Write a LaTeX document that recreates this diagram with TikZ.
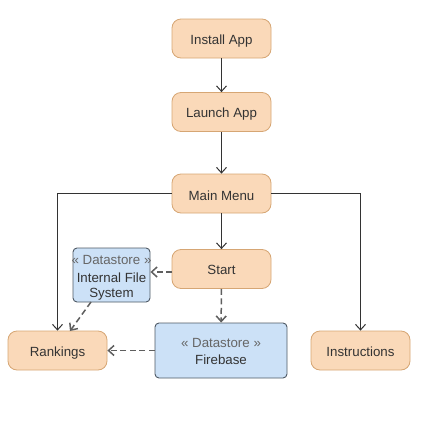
\documentclass[tikz,border=0pt]{standalone}
\usepackage{fontspec}
\setmainfont{Liberation Sans}
\usetikzlibrary{arrows.meta}
\definecolor{ofill}{HTML}{FAD9B9}
\definecolor{ostroke}{HTML}{D6A674}
\definecolor{bfill}{HTML}{CCE1F7}
\definecolor{bstroke}{HTML}{4F5964}
\definecolor{txt}{HTML}{333333}
\definecolor{stereo}{HTML}{666666}
\definecolor{lnsolid}{HTML}{333333}
\definecolor{lndash}{HTML}{5F5F5F}
\begin{document}
\begin{tikzpicture}[x=1pt,y=-1pt,
  every node/.style={font=\fontsize{13.3}{16}\selectfont, text=txt},
  proc/.style={draw=ostroke, fill=ofill, rounded corners=9pt, minimum width=99pt, minimum height=39pt, inner sep=0pt, line width=0.8pt},
  store/.style={draw=bstroke, fill=bfill, rounded corners=4pt, inner sep=0pt, line width=0.9pt, align=center},
  lbl/.style={inner sep=0pt, anchor=base},
  flow/.style={draw=lnsolid, line width=1pt, -{Straight Barb[length=5.5pt,width=10pt]}},
  dep/.style={draw=lndash, line width=1.5pt, dash pattern=on 6pt off 3.5pt, -{Straight Barb[length=5.5pt,width=10pt]}}
]
\useasboundingbox (0,0) rectangle (432,426);
\node[proc] (install) at (221.5,38.5) {};
\node[proc] (launch) at (221.5,112) {};
\node[proc] (menu) at (221.5,193.5) {};
\node[proc] (start) at (221.5,269) {};
\node[proc] (rank) at (57.5,350.5) {};
\node[proc] (instr) at (360.5,350.5) {};
\node[store, minimum width=77pt, minimum height=54pt] (ifs) at (111.5,275) {};
\node[store, minimum width=132pt, minimum height=55pt] (fb) at (221,350.5) {};
\node[lbl] (tinstall) at (221.5,44) {Install App};
\node[lbl] (tlaunch) at (221.5,117.5) {Launch App};
\node[lbl] (tmenu) at (221.5,200.5) {Main Menu};
\node[lbl] (tstart) at (221.5,274.5) {Start};
\node[lbl] (trank) at (57.5,356.5) {Rankings};
\node[lbl] (tinstr) at (360.5,356.5) {Instructions};
\node[lbl] (ifsst) at (111.5,264) {\textcolor{stereo}{« Datastore »}};
\node[lbl] (ifsn1) at (111.5,282.5) {Internal File};
\node[lbl] (ifsn2) at (111.5,297) {System};
\node[lbl] (fbst) at (221,347) {\textcolor{stereo}{« Datastore »}};
\node[lbl] (fbname) at (221,364.5) {Firebase};
\draw[flow] (install) -- (launch);
\draw[flow] (launch) -- (menu);
\draw[flow] (menu) -- (start);
\draw[flow] (menu.west) -| (rank.north);
\draw[flow] (menu.east) -| (instr.north);
\coordinate (sleft) at (172,272);
\draw[dep] (sleft) -- (ifs.east |- sleft);
\draw[dep] (start) -- (fb);
\draw[dep] (fb.west) -- (rank.east);
\coordinate (ifsout) at (91,302);
\coordinate (rankin) at (70,331);
\draw[dep] (ifsout) -- (rankin);
\end{tikzpicture}
\end{document}
